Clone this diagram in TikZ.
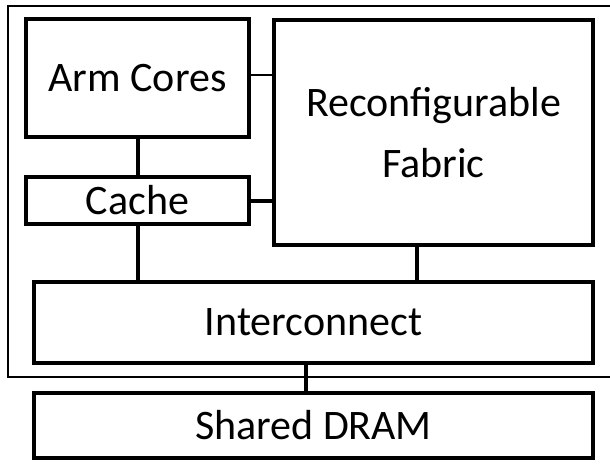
\documentclass[tikz,border=0pt]{standalone}
\usepackage{fontspec}
\setmainfont{Carlito}
\begin{document}
\begin{tikzpicture}[x=1pt,y=-1pt,
  block/.style={draw=black, line width=4pt, fill=white, inner sep=0pt, anchor=center,
    font=\fontsize{42}{61}\selectfont, align=center},
  thickwire/.style={draw=black, line width=4pt},
  thinwire/.style={draw=black, line width=1.2pt}]
  \useasboundingbox (0,0) rectangle (610,463);
  \begin{scope}
    \clip (0,0) rectangle (610,463);
    % enclosing SoC boundary (right side runs past the page edge)
    \draw[black, line width=2pt] (8,6) rectangle (620,377);
  \end{scope}
  % blocks
  \node[block, minimum width=223pt, minimum height=118.5pt] (arm) at (137.5,77.75) {Arm Cores};
  \node[block, minimum width=223pt, minimum height=47pt] (cache) at (137.5,200.5) {Cache};
  \node[block, minimum width=319pt, minimum height=225pt] (fabric) at (433.5,132.5) {Reconfigurable\\Fabric};
  \node[block, minimum width=559pt, minimum height=81pt] (ic) at (313.5,322.5) {Interconnect};
  \node[block, minimum width=559pt, minimum height=65pt] (dram) at (313.5,425.5) {Shared DRAM};
  % connections
  \draw[thickwire] (arm.south) -- (cache.north);
  \draw[thickwire] (cache.south) -- (cache.south |- ic.north);
  \draw[thickwire] (cache.east) -- (cache.east -| fabric.west);
  \draw[thinwire] ([yshift=2.75pt]arm.east) -- ([yshift=2.75pt]arm.east -| fabric.west);
  \draw[thickwire] ([xshift=-16.5pt]fabric.south) -- ([xshift=-16.5pt]fabric.south |- ic.north);
  \draw[thickwire] ([xshift=-7.5pt]ic.south) -- ([xshift=-7.5pt]ic.south |- dram.north);
\end{tikzpicture}
\end{document}
